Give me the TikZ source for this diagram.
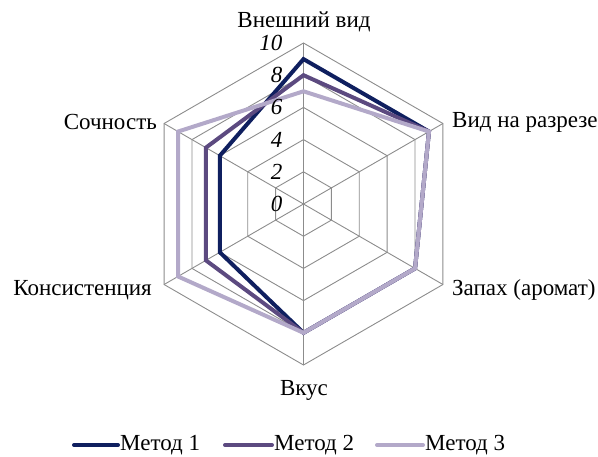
\documentclass[tikz,border=0pt]{standalone}
\usepackage{fontspec}
\setmainfont{Liberation Serif}
\definecolor{mA}{HTML}{0F1F5F}
\definecolor{mB}{HTML}{5C4A80}
\definecolor{mC}{HTML}{B3A9C9}
\definecolor{gridc}{HTML}{8C8C8C}
\begin{document}
\begin{tikzpicture}[x=1pt,y=1pt,
  gridline/.style={draw=gridc,line width=0.9pt},
  series/.style={line width=4pt,line join=miter},
  lbl/.style={font=\fontsize{23}{25}\selectfont,inner sep=0pt},
  tick/.style={font=\fontsize{23}{25}\selectfont\itshape,inner sep=0pt,anchor=east},
  legline/.style={line width=4pt,line cap=round}]
\useasboundingbox (0,0) rectangle (598,-456);
\coordinate (O) at (303.5,-204);
\begin{scope}[shift={(303.5,-204)}]
% grid rings
\foreach \k in {1,...,5}{
  \pgfmathsetmacro{\r}{\k*32.2}
  \draw[gridline] (90:\r) -- (30:\r) -- (-30:\r) -- (-90:\r) -- (210:\r) -- (150:\r) -- cycle;
}
% spokes
\foreach \a in {90,30,-30,-90,210,150}{
  \draw[gridline] (0,0) -- (\a:161);
}
% series
\def\u{16.1}
\draw[series,mA] (90:9*\u) -- (30:9*\u) -- (-30:8*\u) -- (-90:8*\u) -- (210:6*\u) -- (150:6*\u) -- cycle;
\draw[series,mB] (90:8*\u) -- (30:9*\u) -- (-30:8*\u) -- (-90:8*\u) -- (210:7*\u) -- (150:7*\u) -- cycle;
\draw[series,mC] (90:7*\u) -- (30:9*\u) -- (-30:8*\u) -- (-90:8*\u) -- (210:9*\u) -- (150:9*\u) -- cycle;
% ticks
\foreach \v in {0,2,4,6,8,10}{
  \node[tick] (t\v) at (-21,\v*\u) {\v};
}
\end{scope}
% axis labels
\node[lbl] (l1) at (304,-22) {Внешний вид};
\node[lbl,anchor=west] (l2) at (452,-122) {Вид на разрезе};
\node[lbl,anchor=west] (l3) at (452,-290) {Запах (аромат)};
\node[lbl] (l4) at (304,-390) {Вкус};
\node[lbl,anchor=east] (l5) at (152,-290) {Консистенция};
\node[lbl,anchor=east] (l6) at (157,-122) {Сочность};
% legend
\coordinate (a1) at (74,-445); \coordinate (b1) at (118,-445);
\coordinate (a2) at (225,-445); \coordinate (b2) at (272,-445);
\coordinate (a3) at (377,-445); \coordinate (b3) at (423,-445);
\draw[legline,mA] (a1) -- (b1);
\draw[legline,mB] (a2) -- (b2);
\draw[legline,mC] (a3) -- (b3);
\node[lbl,anchor=west] (g1) at (120,-445) {Метод 1};
\node[lbl,anchor=west] (g2) at (274,-445) {Метод 2};
\node[lbl,anchor=west] (g3) at (425,-445) {Метод 3};
\end{tikzpicture}
\end{document}
